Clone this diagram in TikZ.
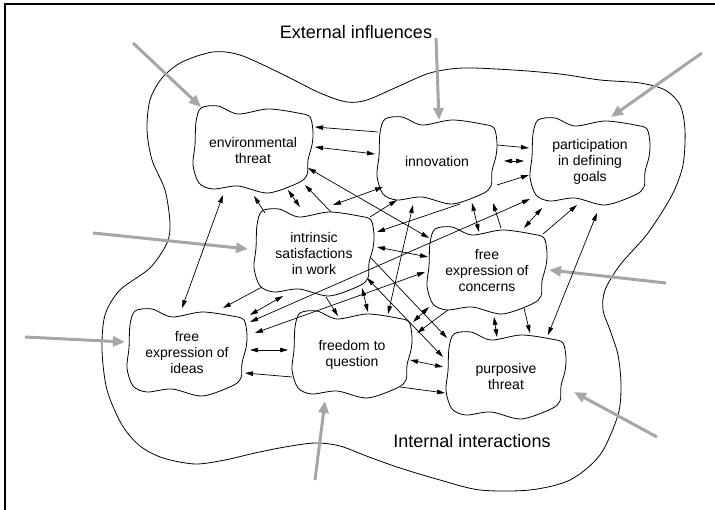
\documentclass[tikz,border=0pt]{standalone}
\usepackage{fontspec}
\setmainfont{Liberation Sans}
\usepackage{xcolor}
\usepackage{tikz}
\usetikzlibrary{arrows.meta}
\definecolor{extgray}{RGB}{166,166,166}
\tikzset{
    factor/.style ={align=center, font=\fontsize{14}{16}\selectfont, minimum width=120pt, minimum height=88pt},
    heading/.style ={font=\fontsize{18}{21}\selectfont},
    blobline/.style ={draw, line width=0.8pt},
    link/.style ={draw, line width=0.7pt, -{Triangle[length=8pt,width=4.5pt]}},
    both/.style ={link, {Triangle[length=8pt,width=4.5pt]}-{Triangle[length=8pt,width=4.5pt]}},
    ext/.style ={draw=extgray, line width=3pt, -{Triangle[length=12pt,width=10pt]}},
    blob/.pic ={\draw[blobline] plot[smooth cycle] coordinates {(-52,-42) (-35,-44) (-15,-36) (15,-41) (45,-37) (57,-33) (60,-18) (59,-5) (55,10) (54,25) (45,33) (15,43) (-15,36) (-40,39) (-54,33) (-60,15) (-58,-5) (-57,-28)};}
}

\begin{document}
\begin{tikzpicture}[x=1pt,y=-1pt]
        \useasboundingbox (0,0) rectangle (715,510);
        \draw[line width=2pt] (5,510) -- (5,4) -- (715,4);

        % outer boundary
        \draw[line width=0.8pt] plot[smooth cycle] coordinates {(182,62) (213,52) (240,55) (280,73) (320,93) (347,102) (367,100) (397,87) (430,73) (463,68) (513,70) (560,74) (600,80) (640,83) (665,90) (680,105) (685,130) (683,165) (672,195) (648,233) (620,265) (605,290) (603,310) (610,330) (618,355) (621,385) (618,415) (600,455) (570,480) (530,490) (480,490) (440,480) (400,468) (369,457) (340,446) (315,443) (285,447) (255,453) (225,460) (195,464) (163,458) (140,446) (122,425) (107,390) (102,350) (105,315) (120,290) (150,268) (167,243) (170,223) (165,190) (152,160) (147,130) (150,100) (162,78)};

        \node[factor] (env) at (253,150) {environmental\\threat};
        \node[factor] (innov) at (437,161) {innovation};
        \node[factor] (part) at (590,162) {participation\\in defining\\goals};
        \node[factor] (intr) at (314,253) {intrinsic\\satisfactions\\in work};
        \node[factor] (conc) at (487,271) {free\\expression of\\concerns};
        \node[factor] (ideas) at (187,353) {free\\expression of\\ideas};
        \node[factor] (quest) at (352,355) {freedom to\\question};
        \node[factor] (purp) at (506,376) {purposive\\threat};

        \foreach \n in {env,innov,part,intr,conc,ideas,quest,purp}
            \pic at (\n) {blob};

        \node[heading] (extlbl) at (356,32) {External influences};
        \node[heading] (intlbl) at (472,441) {Internal interactions};

        % external influences
        \coordinate (s1) at (133,43);
        \coordinate (s2) at (436,38);
        \coordinate (s3) at (702,53);
        \coordinate (s4) at (93,233);
        \coordinate (s5) at (25,337);
        \coordinate (s6) at (666,283);
        \coordinate (s7) at (315,480);
        \coordinate (s8) at (657,437);
        \path (s1) edge[ext] ([shift={(-52,-43)}]env.center);
        \path (s2) edge[ext] ([shift={(2,-41)}]innov.center);
        \path (s3) edge[ext] ([shift={(21,-45)}]part.center);
        \path (s4) edge[ext] ([shift={(-66,-4)}]intr.center);
        \path (s5) edge[ext] ([shift={(-62,-11)}]ideas.center);
        \path (s6) edge[ext] ([shift={(62,-1)}]conc.center);
        \path (s7) edge[ext] ([shift={(-27,46)}]quest.center);
        \path (s8) edge[ext] ([shift={(68,16)}]purp.center);

        % environmental threat
        \path ([shift={(-59,-29)}]innov.center) edge[link] ([shift={(62,-23)}]env.center);
        \path ([shift={(62,-3)}]env.center) edge[both] ([shift={(-62,-7)}]innov.center);
        \path ([shift={(-30,45)}]env.center) edge[both] ([shift={(-5,-45)}]ideas.center);
        \path ([shift={(-49,-40)}]intr.center) edge[link] ([shift={(1,46)}]env.center);
        \path ([shift={(35,40)}]env.center) edge[both] ([shift={(-14,-46)}]intr.center);
        \path ([shift={(17,-41)}]intr.center) edge[link] ([shift={(52,35)}]env.center);
        \path ([shift={(55,18)}]env.center) edge[both] ([shift={(-58,-33)}]conc.center);

        % innovation
        \path ([shift={(60,-16)}]innov.center) edge[link] ([shift={(-61,-14)}]part.center);
        \path ([shift={(67,0)}]innov.center) edge[both] ([shift={(-66,-1)}]part.center);
        \path ([shift={(60,24)}]innov.center) edge[link] ([shift={(-61,13)}]part.center);
        \path ([shift={(19,-48)}]intr.center) edge[both] ([shift={(-54,26)}]innov.center);
        \path ([shift={(56,-36)}]intr.center) edge[link] ([shift={(-40,39)}]innov.center);
        \path ([shift={(23,43)}]innov.center) edge[link] ([shift={(63,-21)}]intr.center);
        \path ([shift={(-24,44)}]innov.center) edge[both] ([shift={(36,-41)}]quest.center);
        \path ([shift={(35,42)}]innov.center) edge[both] ([shift={(-8,-39)}]conc.center);
        \path ([shift={(14,-43)}]conc.center) edge[link] ([shift={(56,42)}]innov.center);

        % participation
        \path ([shift={(63,-31)}]ideas.center) edge[both] ([shift={(-60,37)}]part.center);
        \path ([shift={(37,-43)}]conc.center) edge[both] ([shift={(-48,46)}]part.center);
        \path ([shift={(56,-37)}]conc.center) edge[link] ([shift={(-13,43)}]part.center);
        \path ([shift={(7,51)}]part.center) edge[both] ([shift={(42,-41)}]purp.center);

        % intrinsic satisfactions
        \path ([shift={(63,-6)}]intr.center) edge[both] ([shift={(-59,-14)}]conc.center);
        \path ([shift={(-52,34)}]intr.center) edge[link] ([shift={(36,-45)}]ideas.center);
        \path ([shift={(63,-38)}]ideas.center) edge[both] ([shift={(-31,43)}]intr.center);
        \path ([shift={(12,44)}]intr.center) edge[link] ([shift={(-14,-39)}]quest.center);
        \path ([shift={(48,35)}]intr.center) edge[both] ([shift={(16,-43)}]quest.center);
        \path ([shift={(56,4)}]intr.center) edge[link] ([shift={(-59,-38)}]purp.center);
        \path ([shift={(53,25)}]intr.center) edge[both] ([shift={(-63,-19)}]purp.center);

        % lower row
        \path ([shift={(68,-20)}]ideas.center) edge[both] ([shift={(-62,1)}]conc.center);
        \path ([shift={(63,-3)}]ideas.center) edge[both] ([shift={(-64,-5)}]quest.center);
        \path ([shift={(-60,22)}]quest.center) edge[link] ([shift={(58,20)}]ideas.center);
        \path ([shift={(58,5)}]quest.center) edge[both] ([shift={(-63,-9)}]purp.center);
        \path ([shift={(48,32)}]quest.center) edge[link] ([shift={(-61,17)}]purp.center);
        \path ([shift={(-58,36)}]conc.center) edge[both] ([shift={(61,-33)}]quest.center);
        \path ([shift={(-39,39)}]conc.center) edge[link] ([shift={(65,-22)}]quest.center);
        \path ([shift={(7,46)}]conc.center) edge[both] ([shift={(-9,-39)}]purp.center);
        \path ([shift={(37,37)}]conc.center) edge[link] ([shift={(24,-43)}]purp.center);
\end{tikzpicture}
\end{document}
